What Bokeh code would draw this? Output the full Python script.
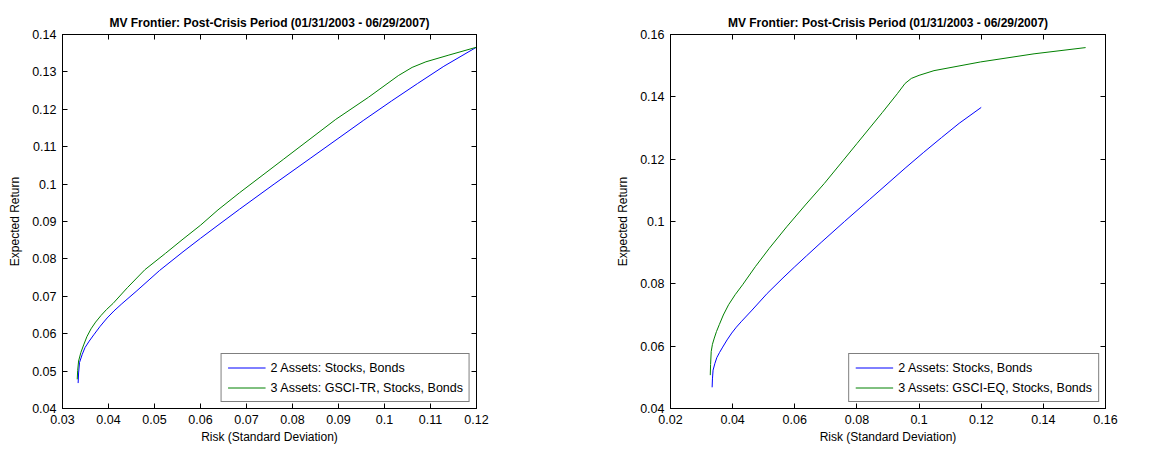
from bokeh.plotting import figure
from bokeh.layouts import row
from bokeh.models import Range1d, LinearAxis, FixedTicker, Legend, LegendItem
from bokeh.embed import file_html
from bokeh.resources import INLINE

# ---- data ----
title_text = "MV Frontier: Post-Crisis Period (01/31/2003 - 06/29/2007)"
x_label = "Risk (Standard Deviation)"
y_label = "Expected Return"

two_risk = [0.0334, 0.0335, 0.0337, 0.0343, 0.0349, 0.0358, 0.0368, 0.0382, 0.0397, 0.0412,
            0.0429, 0.0460, 0.0511, 0.0562, 0.0600, 0.0638, 0.0685, 0.0760, 0.0840, 0.0955,
            0.1015, 0.1072, 0.1129, 0.1200]
two_ret = [0.0468, 0.0495, 0.0523, 0.0545, 0.0563, 0.0580, 0.0597, 0.0620, 0.0642, 0.0661,
           0.0680, 0.0713, 0.0769, 0.0819, 0.0855, 0.0890, 0.0933, 0.1000, 0.1070, 0.1171,
           0.1222, 0.1269, 0.1315, 0.1366]

tr_risk = [0.0332, 0.0333, 0.0335, 0.0340, 0.0346, 0.0353, 0.0362, 0.0372, 0.0384, 0.0396,
           0.0410, 0.0441, 0.0479, 0.0524, 0.0562, 0.0600, 0.0638, 0.0685, 0.0780, 0.0894,
           0.0965, 0.1030, 0.1060, 0.1090, 0.1140, 0.1200]
tr_ret = [0.0478, 0.0502, 0.0527, 0.0550, 0.0570, 0.0592, 0.0613, 0.0631, 0.0649, 0.0665,
          0.0681, 0.0723, 0.0771, 0.0815, 0.0853, 0.0890, 0.0931, 0.0977, 0.1066, 0.1173,
          0.1232, 0.1290, 0.1312, 0.1327, 0.1345, 0.1366]

eq_risk = [0.0328, 0.0329, 0.0331, 0.0335, 0.0341, 0.0348, 0.0357, 0.0370, 0.0387, 0.0408,
           0.0432, 0.0473, 0.0518, 0.0574, 0.0634, 0.0695, 0.0755, 0.0800, 0.0882, 0.0930,
           0.0955, 0.0975, 0.1000, 0.1048, 0.1198, 0.1370, 0.1536]
eq_ret = [0.0507, 0.0541, 0.0583, 0.0606, 0.0626, 0.0647, 0.0669, 0.0700, 0.0733, 0.0765,
          0.0797, 0.0855, 0.0914, 0.0983, 0.1053, 0.1122, 0.1195, 0.1250, 0.1350, 0.1410,
          0.1443, 0.1459, 0.1469, 0.1484, 0.1512, 0.1538, 0.1558]

left_xticks = [0.03, 0.04, 0.05, 0.06, 0.07, 0.08, 0.09, 0.10, 0.11, 0.12]
left_xlabels = ["0.03", "0.04", "0.05", "0.06", "0.07", "0.08", "0.09", "0.1", "0.11", "0.12"]
left_yticks = [0.04, 0.05, 0.06, 0.07, 0.08, 0.09, 0.10, 0.11, 0.12, 0.13, 0.14]
left_ylabels = ["0.04", "0.05", "0.06", "0.07", "0.08", "0.09", "0.1", "0.11", "0.12", "0.13", "0.14"]
right_xticks = [0.02, 0.04, 0.06, 0.08, 0.10, 0.12, 0.14, 0.16]
right_xlabels = ["0.02", "0.04", "0.06", "0.08", "0.1", "0.12", "0.14", "0.16"]
right_yticks = [0.04, 0.06, 0.08, 0.10, 0.12, 0.14, 0.16]
right_ylabels = ["0.04", "0.06", "0.08", "0.1", "0.12", "0.14", "0.16"]

legend_two = "2 Assets: Stocks, Bonds"
legend_tr = "3 Assets: GSCI-TR, Stocks, Bonds"
legend_eq = "3 Assets: GSCI-EQ, Stocks, Bonds"

BLUE = "#0000ff"
GREEN = "#008000"
FONT = "Liberation Sans"


def style_axis(ax, ticks, labels, show_labels=True, axis_standoff=7, label_standoff=6):
    ax.ticker = FixedTicker(ticks=ticks)
    ax.minor_tick_line_color = None
    ax.major_tick_in = 5
    ax.major_tick_out = 0
    ax.axis_line_color = "black"
    ax.major_tick_line_color = "black"
    ax.major_label_text_font = FONT
    ax.axis_label_text_font = FONT
    ax.axis_label_text_font_style = "normal"
    ax.axis_label_text_font_size = "12px"
    ax.axis_label_text_color = "black"
    if show_labels:
        ax.major_label_overrides = dict(zip(ticks, labels))
        ax.major_label_text_color = "black"
        ax.major_label_text_font_size = "12.5px"
        ax.major_label_standoff = label_standoff
        ax.axis_label_standoff = axis_standoff
    else:
        ax.major_label_text_color = None
        ax.major_label_text_font_size = "1px"
        ax.major_label_standoff = 0


def make_plot(width, border_left, border_right, xr, yr, xt, xl, yt, yl, series):
    p = figure(width=width, height=446, output_backend="svg", toolbar_location=None,
               x_range=Range1d(*xr), y_range=Range1d(*yr),
               min_border_left=border_left, min_border_right=border_right,
               min_border_top=34, min_border_bottom=38)
    p.title.text = title_text
    p.title.align = "center"
    p.title.text_font = FONT
    p.title.text_font_size = "12px"
    p.title.text_font_style = "bold"
    p.title.text_color = "black"
    p.title.standoff = 9
    p.grid.visible = False
    p.outline_line_color = "black"
    p.outline_line_width = 1
    p.background_fill_color = "white"
    p.border_fill_color = "white"

    p.xaxis.axis_label = x_label
    p.yaxis.axis_label = y_label
    style_axis(p.xaxis[0], xt, xl, axis_standoff=3, label_standoff=6)
    style_axis(p.yaxis[0], yt, yl, axis_standoff=7, label_standoff=6)

    top = LinearAxis()
    style_axis(top, xt, xl, show_labels=False)
    p.add_layout(top, "above")
    right = LinearAxis()
    style_axis(right, yt, yl, show_labels=False)
    p.add_layout(right, "right")

    items = []
    for xs, ys, color, label in series:
        r = p.line(xs, ys, line_color=color, line_width=1)
        items.append(LegendItem(label=label, renderers=[r]))
    legend = Legend(items=items, location="bottom_right")
    legend.border_line_color = "black"
    legend.border_line_width = 1
    legend.background_fill_color = "white"
    legend.background_fill_alpha = 1
    legend.label_text_font = FONT
    legend.label_text_font_size = "12.5px"
    legend.label_text_color = "black"
    legend.glyph_width = 38
    legend.glyph_height = 15
    legend.label_height = 15
    legend.label_standoff = 5
    legend.padding = 6
    legend.spacing = 5
    legend.margin = 6
    p.add_layout(legend, "center")
    return p


p1 = make_plot(589, 62, 113, (0.03, 0.12), (0.04, 0.14),
               left_xticks, left_xlabels, left_yticks, left_ylabels,
               [(two_risk, two_ret, BLUE, legend_two), (tr_risk, tr_ret, GREEN, legend_tr)])
p2 = make_plot(536, 81, 20, (0.02, 0.16), (0.04, 0.16),
               right_xticks, right_xlabels, right_yticks, right_ylabels,
               [(two_risk, two_ret, BLUE, legend_two), (eq_risk, eq_ret, GREEN, legend_eq)])

layout = row(p1, p2)
open("out.html", "w").write(file_html(layout, INLINE))
